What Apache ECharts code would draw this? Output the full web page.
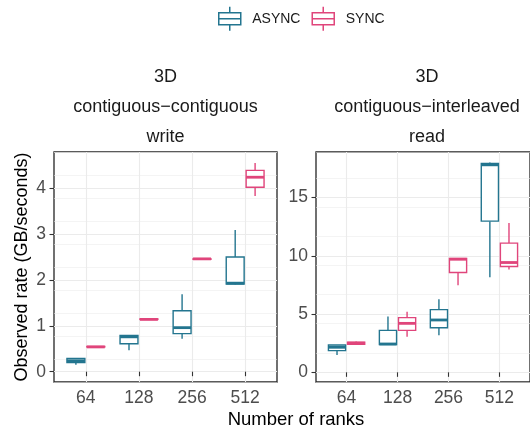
<!DOCTYPE html>
<html>
<head>
<meta charset="utf-8">
<script src="https://cdn.jsdelivr.net/npm/echarts@6/dist/echarts.min.js"></script>
<style>html,body{margin:0;padding:0;background:#fff}#c{width:530px;height:431px}</style>
</head>
<body>
<div id="c"></div>
<script>
// categories (number of ranks)
const categories = ['64', '128', '256', '512'];
// box stats per category: [min, q1, median, q3, max]
const writeAsync = [[0.15, 0.20, 0.24, 0.29, 0.29], [0.47, 0.61, 0.76, 0.79, 0.80], [0.72, 0.83, 0.96, 1.33, 1.69], [1.90, 1.91, 1.93, 2.50, 3.09]];
const writeSync  = [[0.53, 0.54, 0.54, 0.55, 0.56], [1.13, 1.14, 1.14, 1.15, 1.15], [2.44, 2.45, 2.46, 2.46, 2.47], [3.83, 4.02, 4.24, 4.39, 4.55]];
const readAsync  = [[1.49, 1.86, 2.15, 2.35, 2.35], [2.37, 2.38, 2.43, 3.60, 4.78], [3.18, 3.83, 4.49, 5.38, 6.27], [8.16, 12.97, 17.8, 17.92, 18.0]];
const readSync   = [[2.35, 2.40, 2.50, 2.58, 2.65], [3.06, 3.60, 4.20, 4.69, 5.20], [7.47, 8.56, 9.70, 9.76, 9.80], [8.81, 9.08, 9.42, 11.08, 12.8]];
const seriesNames = ['ASYNC', 'SYNC'];
const panelTitles = ['3D\ncontiguous\u2212contiguous\nwrite', '3D\ncontiguous\u2212interleaved\nread'];
const leftTicks = [0, 1, 2, 3, 4];
const rightTicks = [0, 5, 10, 15];
const xTicks = [1, 2, 3, 4];

const COLORS = ['#23758f', '#e0457b'];
const GRID_C = '#ebebeb';
const LABEL_C = '#4d4d4d';
const FONT = '"Liberation Sans", Arial, sans-serif';

function toData(arr) { return arr.map((v, i) => [i + 1].concat(v)); }

function makeRender(offset, color) {
  return function (params, api) {
    const x = api.value(0);
    const unit = api.size([1, 0])[0];
    const cx = api.coord([x, 0])[0] + offset * unit;
    const half = 0.3375 / 2 * unit;
    const yMin = api.coord([x, api.value(1)])[1];
    const yQ1 = api.coord([x, api.value(2)])[1];
    const yMed = api.coord([x, api.value(3)])[1];
    const yQ3 = api.coord([x, api.value(4)])[1];
    const yMax = api.coord([x, api.value(5)])[1];
    const ls = { stroke: color, lineWidth: 1.4, fill: null };
    return {
      type: 'group',
      children: [
        { type: 'line', shape: { x1: cx, y1: yQ3, x2: cx, y2: yMax }, style: ls },
        { type: 'line', shape: { x1: cx, y1: yQ1, x2: cx, y2: yMin }, style: ls },
        { type: 'rect', shape: { x: cx - half, y: yQ3, width: 2 * half, height: yQ1 - yQ3 }, style: { stroke: color, lineWidth: 1.4, fill: '#fff' } },
        { type: 'line', shape: { x1: cx - half, y1: yMed, x2: cx + half, y2: yMed }, style: { stroke: color, lineWidth: 2.8 } }
      ]
    };
  };
}

const grids = [
  { left: 54, top: 152, width: 223, height: 230, show: true, borderColor: '#262626', borderWidth: 1.3, backgroundColor: 'transparent' },
  { left: 316, top: 152, width: 222, height: 230, show: true, borderColor: '#262626', borderWidth: 1.3, backgroundColor: 'transparent' }
];

function xAxis(gi) {
  return {
    type: 'value', gridIndex: gi, min: 0.4, max: 4.6, interval: 1,
    axisLine: { show: false },
    axisTick: { show: true, customValues: xTicks, length: 4.5, lineStyle: { color: '#333', width: 1.1 } },
    axisLabel: { customValues: xTicks, formatter: v => categories[v - 1], color: LABEL_C, fontSize: 17.5, fontFamily: FONT, margin: 7 },
    splitLine: { show: true, lineStyle: { color: GRID_C, width: 1.1 } }
  };
}

function yMain(gi, min, max, interval, ticks, extra) {
  return Object.assign({
    type: 'value', gridIndex: gi, min: min, max: max, interval: interval,
    axisLine: { show: false },
    axisTick: { show: true, customValues: ticks, length: 4.5, lineStyle: { color: '#333', width: 1.1 } },
    axisLabel: { customValues: ticks, color: LABEL_C, fontSize: 17.5, fontFamily: FONT, margin: 8 },
    splitLine: { show: true, lineStyle: { color: GRID_C, width: 1.1 } }
  }, extra || {});
}

function yMinor(gi, min, max, interval) {
  return {
    type: 'value', gridIndex: gi, min: min, max: max, interval: interval,
    axisLine: { show: false }, axisTick: { show: false }, axisLabel: { show: false },
    splitLine: { show: true, lineStyle: { color: GRID_C, width: 0.55 } }
  };
}

const legendIcon = 'path://M11,0L11,6M0,6L22,6L22,18L0,18ZM0,12L22,12M11,18L11,24';

const option = {
  animation: false,
  backgroundColor: '#fff',
  title: [
    { text: panelTitles[0], left: 165.5, top: 62, textAlign: 'center', padding: 0,
      textStyle: { fontSize: 18, fontWeight: 'normal', color: '#1a1a1a', fontFamily: FONT, lineHeight: 30 } },
    { text: panelTitles[1], left: 427, top: 62, textAlign: 'center', padding: 0,
      textStyle: { fontSize: 18, fontWeight: 'normal', color: '#1a1a1a', fontFamily: FONT, lineHeight: 30 } },
    { text: 'Number of ranks', left: 296, top: 410, textAlign: 'center', padding: 0,
      textStyle: { fontSize: 18.5, fontWeight: 'normal', color: '#000', fontFamily: FONT } }
  ],
  legend: {
    left: 218, top: 6, itemWidth: 23, itemHeight: 24, itemGap: 11, padding: 0,
    textStyle: { fontSize: 14, color: '#1a1a1a', fontFamily: FONT, padding: [0, 0, 0, 6] },
    data: seriesNames.map((n, i) => ({ name: n, icon: legendIcon, itemStyle: { color: 'rgba(0,0,0,0)', borderColor: COLORS[i], borderWidth: 1.5 } }))
  },
  grid: grids,
  xAxis: [xAxis(0), xAxis(1)],
  yAxis: [
    yMain(0, -0.225, 4.79, 1, leftTicks, {
      name: 'Observed rate (GB/seconds)', nameLocation: 'middle', nameGap: 23,
      nameTextStyle: { fontSize: 18, color: '#000', fontFamily: FONT }
    }),
    yMain(1, -0.83, 18.9, 5, rightTicks),
    yMinor(0, -0.225, 4.79, 0.5),
    yMinor(1, -0.83, 18.9, 2.5)
  ],
  series: [
    { name: seriesNames[0], type: 'custom', xAxisIndex: 0, yAxisIndex: 0, renderItem: makeRender(-0.1875, COLORS[0]), encode: { x: 0, y: [1, 2, 3, 4, 5] }, data: toData(writeAsync), itemStyle: { color: COLORS[0] }, z: 5 },
    { name: seriesNames[1], type: 'custom', xAxisIndex: 0, yAxisIndex: 0, renderItem: makeRender(0.1875, COLORS[1]), encode: { x: 0, y: [1, 2, 3, 4, 5] }, data: toData(writeSync), itemStyle: { color: COLORS[1] }, z: 5 },
    { name: seriesNames[0], type: 'custom', xAxisIndex: 1, yAxisIndex: 1, renderItem: makeRender(-0.1875, COLORS[0]), encode: { x: 0, y: [1, 2, 3, 4, 5] }, data: toData(readAsync), itemStyle: { color: COLORS[0] }, z: 5 },
    { name: seriesNames[1], type: 'custom', xAxisIndex: 1, yAxisIndex: 1, renderItem: makeRender(0.1875, COLORS[1]), encode: { x: 0, y: [1, 2, 3, 4, 5] }, data: toData(readSync), itemStyle: { color: COLORS[1] }, z: 5 }
  ]
};

const chart = echarts.init(document.getElementById('c'), null, { renderer: 'canvas' });
chart.setOption(option);
</script>
</body>
</html>
